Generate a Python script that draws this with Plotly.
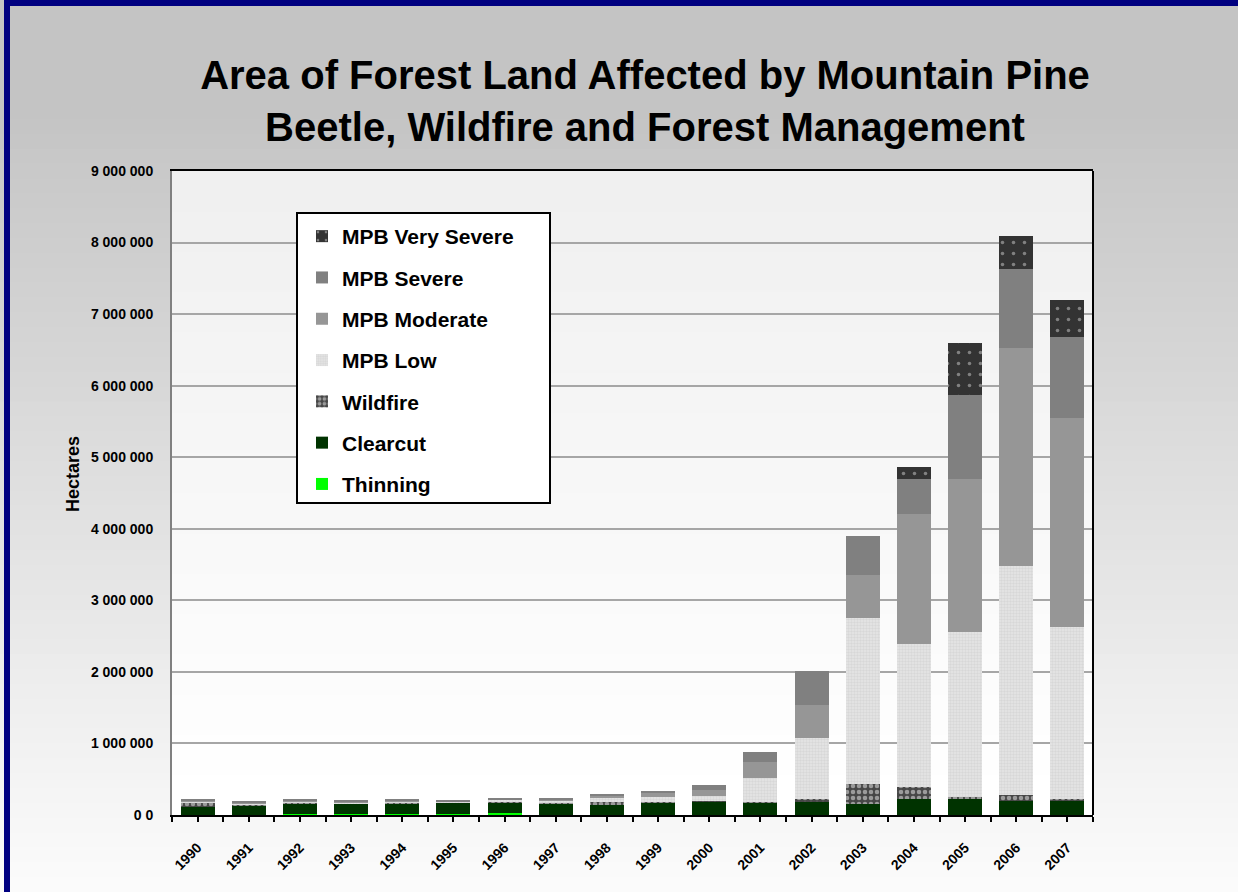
import plotly.graph_objects as go

# ---------------- data ----------------
years = ["1990", "1991", "1992", "1993", "1994", "1995", "1996", "1997", "1998",
         "1999", "2000", "2001", "2002", "2003", "2004", "2005", "2006", "2007"]
thinning = [3000, 3000, 12000, 8000, 9000, 8000, 25000, 5000, 3000,
            3000, 2000, 2000, 2000, 2000, 2000, 1000, 1000, 1000]
clearcut = [113000, 132000, 146000, 150000, 149000, 164000, 152000, 153000, 141000,
            174000, 184000, 171000, 184000, 152000, 218000, 219000, 195000, 195000]
wildfire = [55000, 10000, 12000, 8000, 10000, 5000, 15000, 8000, 40000,
            10000, 5000, 12000, 38000, 280000, 167000, 36000, 79000, 24000]
mpb_low = [15000, 18000, 14000, 12000, 14000, 8000, 18000, 30000, 50000,
           65000, 75000, 332000, 849000, 2321000, 2003000, 2304000, 3205000, 2410000]
mpb_moderate = [10000, 13000, 15000, 12000, 17000, 10000, 12000, 20000, 28000,
                51000, 84000, 224000, 465000, 602000, 1820000, 2140000, 3050000, 2920000]
mpb_severe = [15000, 20000, 25000, 20000, 25000, 15000, 20000, 26000, 30000,
              33000, 70000, 140000, 476000, 543000, 490000, 1164000, 1106000, 1135000]
mpb_very_severe = [0, 0, 0, 0, 0, 0, 0, 0, 0,
                   0, 0, 0, 0, 0, 167000, 736000, 462000, 515000]

y_tick_values = [0, 1000000, 2000000, 3000000, 4000000, 5000000,
                 6000000, 7000000, 8000000, 9000000]
y_tick_labels = ["0 0", "1 000 000", "2 000 000", "3 000 000", "4 000 000",
                 "5 000 000", "6 000 000", "7 000 000", "8 000 000", "9 000 000"]

title_text = ("Area of Forest Land Affected by Mountain Pine<br>"
              "Beetle, Wildfire and Forest Management")
y_title = "Hectares"

# ---------------- layout helpers ----------------
W, H = 1238, 892
L, R, T, B = 172, 1093, 171, 815
FONT = "Liberation Sans, Arial, sans-serif"


def px(x):
    return (x - L) / (R - L)


def py(y):
    return (B - y) / (B - T)


xpos = list(range(len(years)))

series = [
    ("Thinning", thinning, dict(color="#00FF00")),
    ("Clearcut", clearcut, dict(color="#003300")),
    ("Wildfire", wildfire, dict(color="#4D4D4D",
                                pattern=dict(shape=".", bgcolor="#474747", fgcolor="#F0F0F0",
                                             size=6, solidity=0.45))),
    ("MPB Low", mpb_low, dict(color="#E0E0E0",
                              pattern=dict(shape=".", bgcolor="#E6E6E6", fgcolor="#C8C8C8",
                                           size=3, solidity=0.5))),
    ("MPB Moderate", mpb_moderate, dict(color="#969696")),
    ("MPB Severe", mpb_severe, dict(color="#808080")),
    ("MPB Very Severe", mpb_very_severe, dict(color="#333333",
                                              pattern=dict(shape=".", bgcolor="#333333",
                                                           fgcolor="#D0D0D0",
                                                           size=11, solidity=0.08))),
]

fig = go.Figure()
for i, (name, vals, mk) in enumerate(series):
    mk = dict(mk)
    mk["line"] = dict(width=0)
    fig.add_trace(go.Bar(x=xpos, y=vals, name=name, marker=mk,
                         legendgroup=f"g{i}", legendrank=1000 - i, width=0.667))

shapes = []
# whole-figure vertical gradient (stepped)
n = 60
for i in range(n):
    y0 = i * H / n
    y1 = (i + 1) * H / n + 1
    frac = (i + 0.5) / n
    lev = int(round(196 + (252 - 196) * max(0.0, (frac - 0.12) / 0.88)))
    c = f"rgb({lev},{lev},{lev})"
    shapes.append(dict(type="rect", xref="paper", yref="paper",
                       x0=px(-5), x1=px(W + 5), y0=py(y1), y1=py(y0),
                       fillcolor=c, line=dict(width=0), layer="below"))
# plot-area gradient
n2 = 16
for i in range(n2):
    y0 = T + i * (B - T) / n2
    y1 = T + (i + 1) * (B - T) / n2 + 1
    lev = 240 + i
    c = f"rgb({lev},{lev},{lev})"
    shapes.append(dict(type="rect", xref="paper", yref="paper",
                       x0=0, x1=1, y0=max(0, py(y1)), y1=py(y0),
                       fillcolor=c, line=dict(width=0), layer="below"))
# navy frame
shapes.append(dict(type="rect", xref="paper", yref="paper",
                   x0=px(7), x1=px(W + 20), y0=py(H + 20), y1=py(3),
                   fillcolor="rgba(0,0,0,0)", line=dict(color="#000080", width=6),
                   layer="above"))
# right border of plot area
shapes.append(dict(type="line", xref="paper", yref="paper",
                   x0=1, x1=1, y0=0, y1=1, line=dict(color="#000000", width=2),
                   layer="above"))
# legend box
shapes.append(dict(type="rect", xref="paper", yref="paper",
                   x0=px(297), x1=px(550), y0=py(503), y1=py(213),
                   fillcolor="#FFFFFF", line=dict(color="#000000", width=2),
                   layer="above"))

fig.update_layout(
    width=W, height=H,
    barmode="stack",
    paper_bgcolor="#D8D8D8",
    plot_bgcolor="rgba(0,0,0,0)",
    margin=dict(l=L, r=W - R, t=T, b=H - B, pad=0),
    font=dict(family=FONT, color="#000000"),
    title=dict(text=title_text, x=645 / W, xanchor="center",
               y=1 - 89 / H, yanchor="middle",
               font=dict(family=FONT, size=40, weight="bold", color="#000000")),
    shapes=shapes,
    annotations=[dict(text=y_title, textangle=-90, xref="paper", yref="paper",
                      x=px(73), y=py(474), xanchor="center", yanchor="middle",
                      showarrow=False,
                      font=dict(family=FONT, size=18, weight="bold", color="#000000"))],
    showlegend=True,
    legend=dict(x=px(302), xanchor="left", y=py(216), yanchor="top",
                traceorder="grouped", tracegroupgap=11,
                bgcolor="rgba(0,0,0,0)", borderwidth=0,
                font=dict(family=FONT, size=21, weight="bold", color="#000000")),
    xaxis=dict(range=[-0.5, len(years) - 0.5], tickvals=xpos, ticktext=years,
               tickangle=-45, ticks="outside", ticklen=5, tickwidth=2, tickcolor="#000000",
               minor=dict(dtick=0.5, tick0=-0.5, ticks="outside", ticklen=5,
                          tickwidth=2, tickcolor="#000000"),
               showline=True, linecolor="#000000", linewidth=2, mirror=True,
               showgrid=False, zeroline=False, ticklabelstandoff=12,
               tickfont=dict(family=FONT, size=14, weight="bold", color="#000000")),
    yaxis=dict(range=[0, 9000000], tickvals=y_tick_values, ticktext=y_tick_labels,
               showline=True, linecolor="#808080", linewidth=2,
               showgrid=True, gridcolor="#A6A6A6", gridwidth=1.5, zeroline=False,
               ticks="", ticklabelstandoff=14,
               tickfont=dict(family=FONT, size=14, weight="bold", color="#000000")),
)

fig.write_html("out.html", post_script="document.body.style.margin='0';",
               config={"displayModeBar": False})
